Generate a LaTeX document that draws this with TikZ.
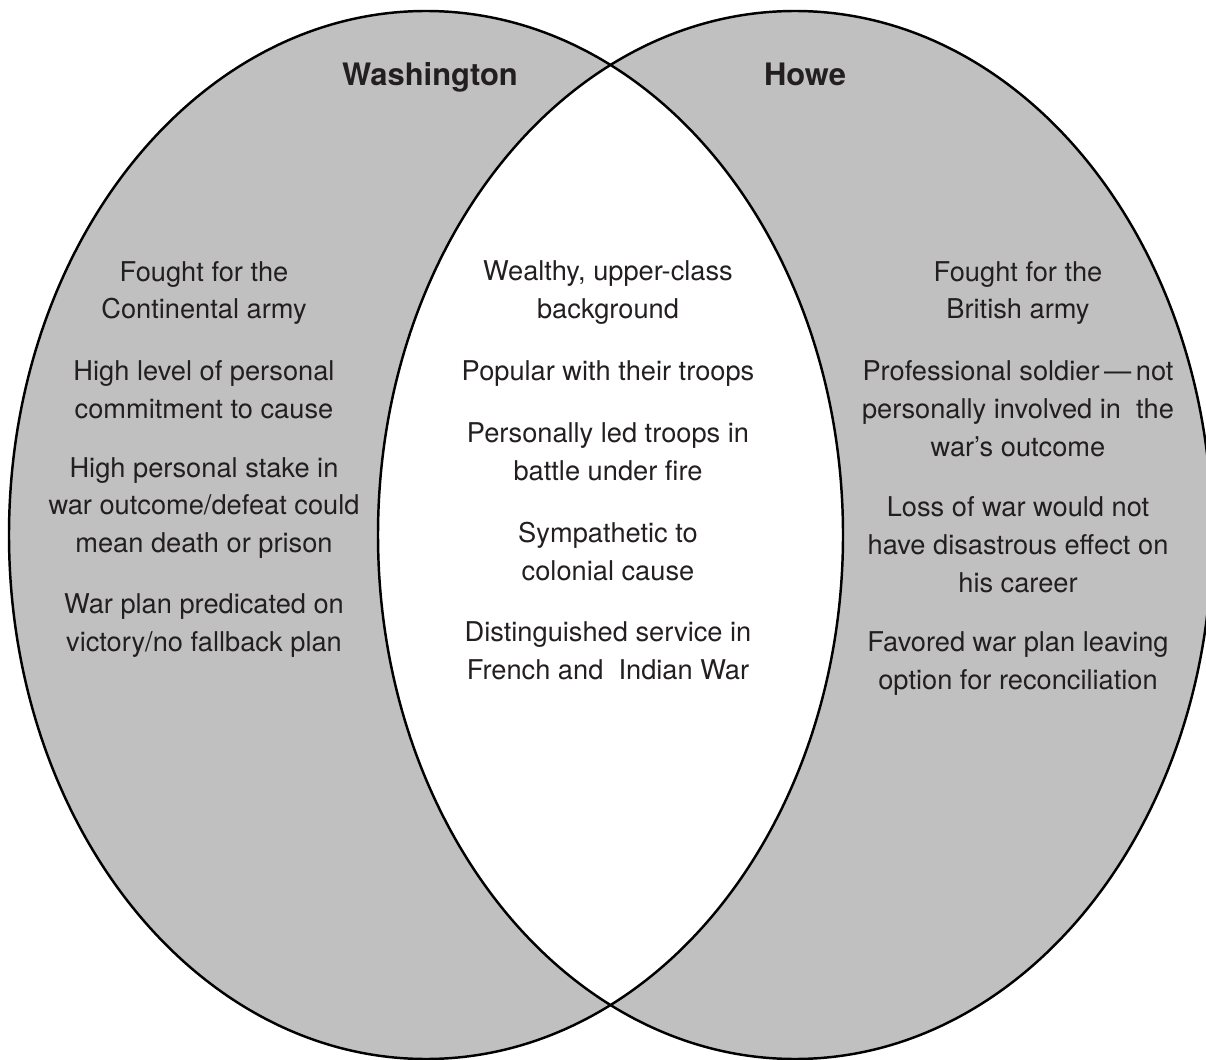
\documentclass[tikz,border=0pt]{standalone}
\usepackage{fontspec}
\setmainfont{TeX Gyre Heros}
\usepackage{tikz}
\usepackage{xcolor}
\definecolor{setgray}{RGB}{192,192,192}
\definecolor{inkgray}{RGB}{35,31,32}

\begin{document}
\begin{tikzpicture}[x=0.02cm, y=0.02cm]
                        % coordinates in pixels, y counted from the bottom
                        \tikzstyle{every node}=[inner sep=0pt, align=center, text=inkgray]
                        \tikzstyle{entry}=[font=\fontsize{15.5}{21.6}\selectfont]
                        \tikzstyle{setname}=[anchor=base, font=\fontsize{17.6}{21.6}\selectfont\bfseries]
                        \useasboundingbox (0, 0) rectangle (1206, 1059);

                        \fill[setgray, even odd rule] (426, 524) ellipse [x radius=417, y radius=524]
                                (795, 524) ellipse [x radius=417, y radius=524];
                        \draw[black, line width=1.4pt] (426, 524) ellipse [x radius=417, y radius=524];
                        \draw[black, line width=1.4pt] (795, 524) ellipse [x radius=417, y radius=524];

                        \node[setname] (wash) at (430, 973) {Washington};
                        \node[setname] (howe) at (805, 973) {Howe};

                        \node[entry] (w1) at (204, 766) {Fought for the\\Continental army};
                        \node[entry] (w2) at (204, 669.5) {High level of personal\\commitment to cause};
                        \node[entry] (w3) at (204, 551) {High personal stake in\\war outcome/defeat could\\mean death or prison};
                        \node[entry] (w4) at (204, 433.5) {War plan predicated on\\victory/no fallback plan};

                        \node[entry] (b1) at (608, 766) {Wealthy, upper-class\\background};
                        \node[entry] (b2) at (608, 685) {Popular with their troops};
                        \node[entry] (b3) at (608, 607.5) {Personally led troops in\\battle under fire};
                        \node[entry] (b4) at (608, 507.5) {Sympathetic to\\colonial cause};
                        \node[entry] (b5) at (608, 408) {Distinguished service in\\French and~ Indian War};

                        \node[entry] (h1) at (1018, 766) {Fought for the\\British army};
                        \node[entry] (h2) at (1018, 650.5) {Professional soldier\,—\,not\\personally involved in~ the\\war’s outcome};
                        \node[entry] (h3) at (1018, 514.5) {Loss of war would not\\have disastrous effect on\\his career};
                        \node[entry] (h4) at (1018, 395.5) {Favored war plan leaving\\option for reconciliation};

                \end{tikzpicture}
\end{document}
